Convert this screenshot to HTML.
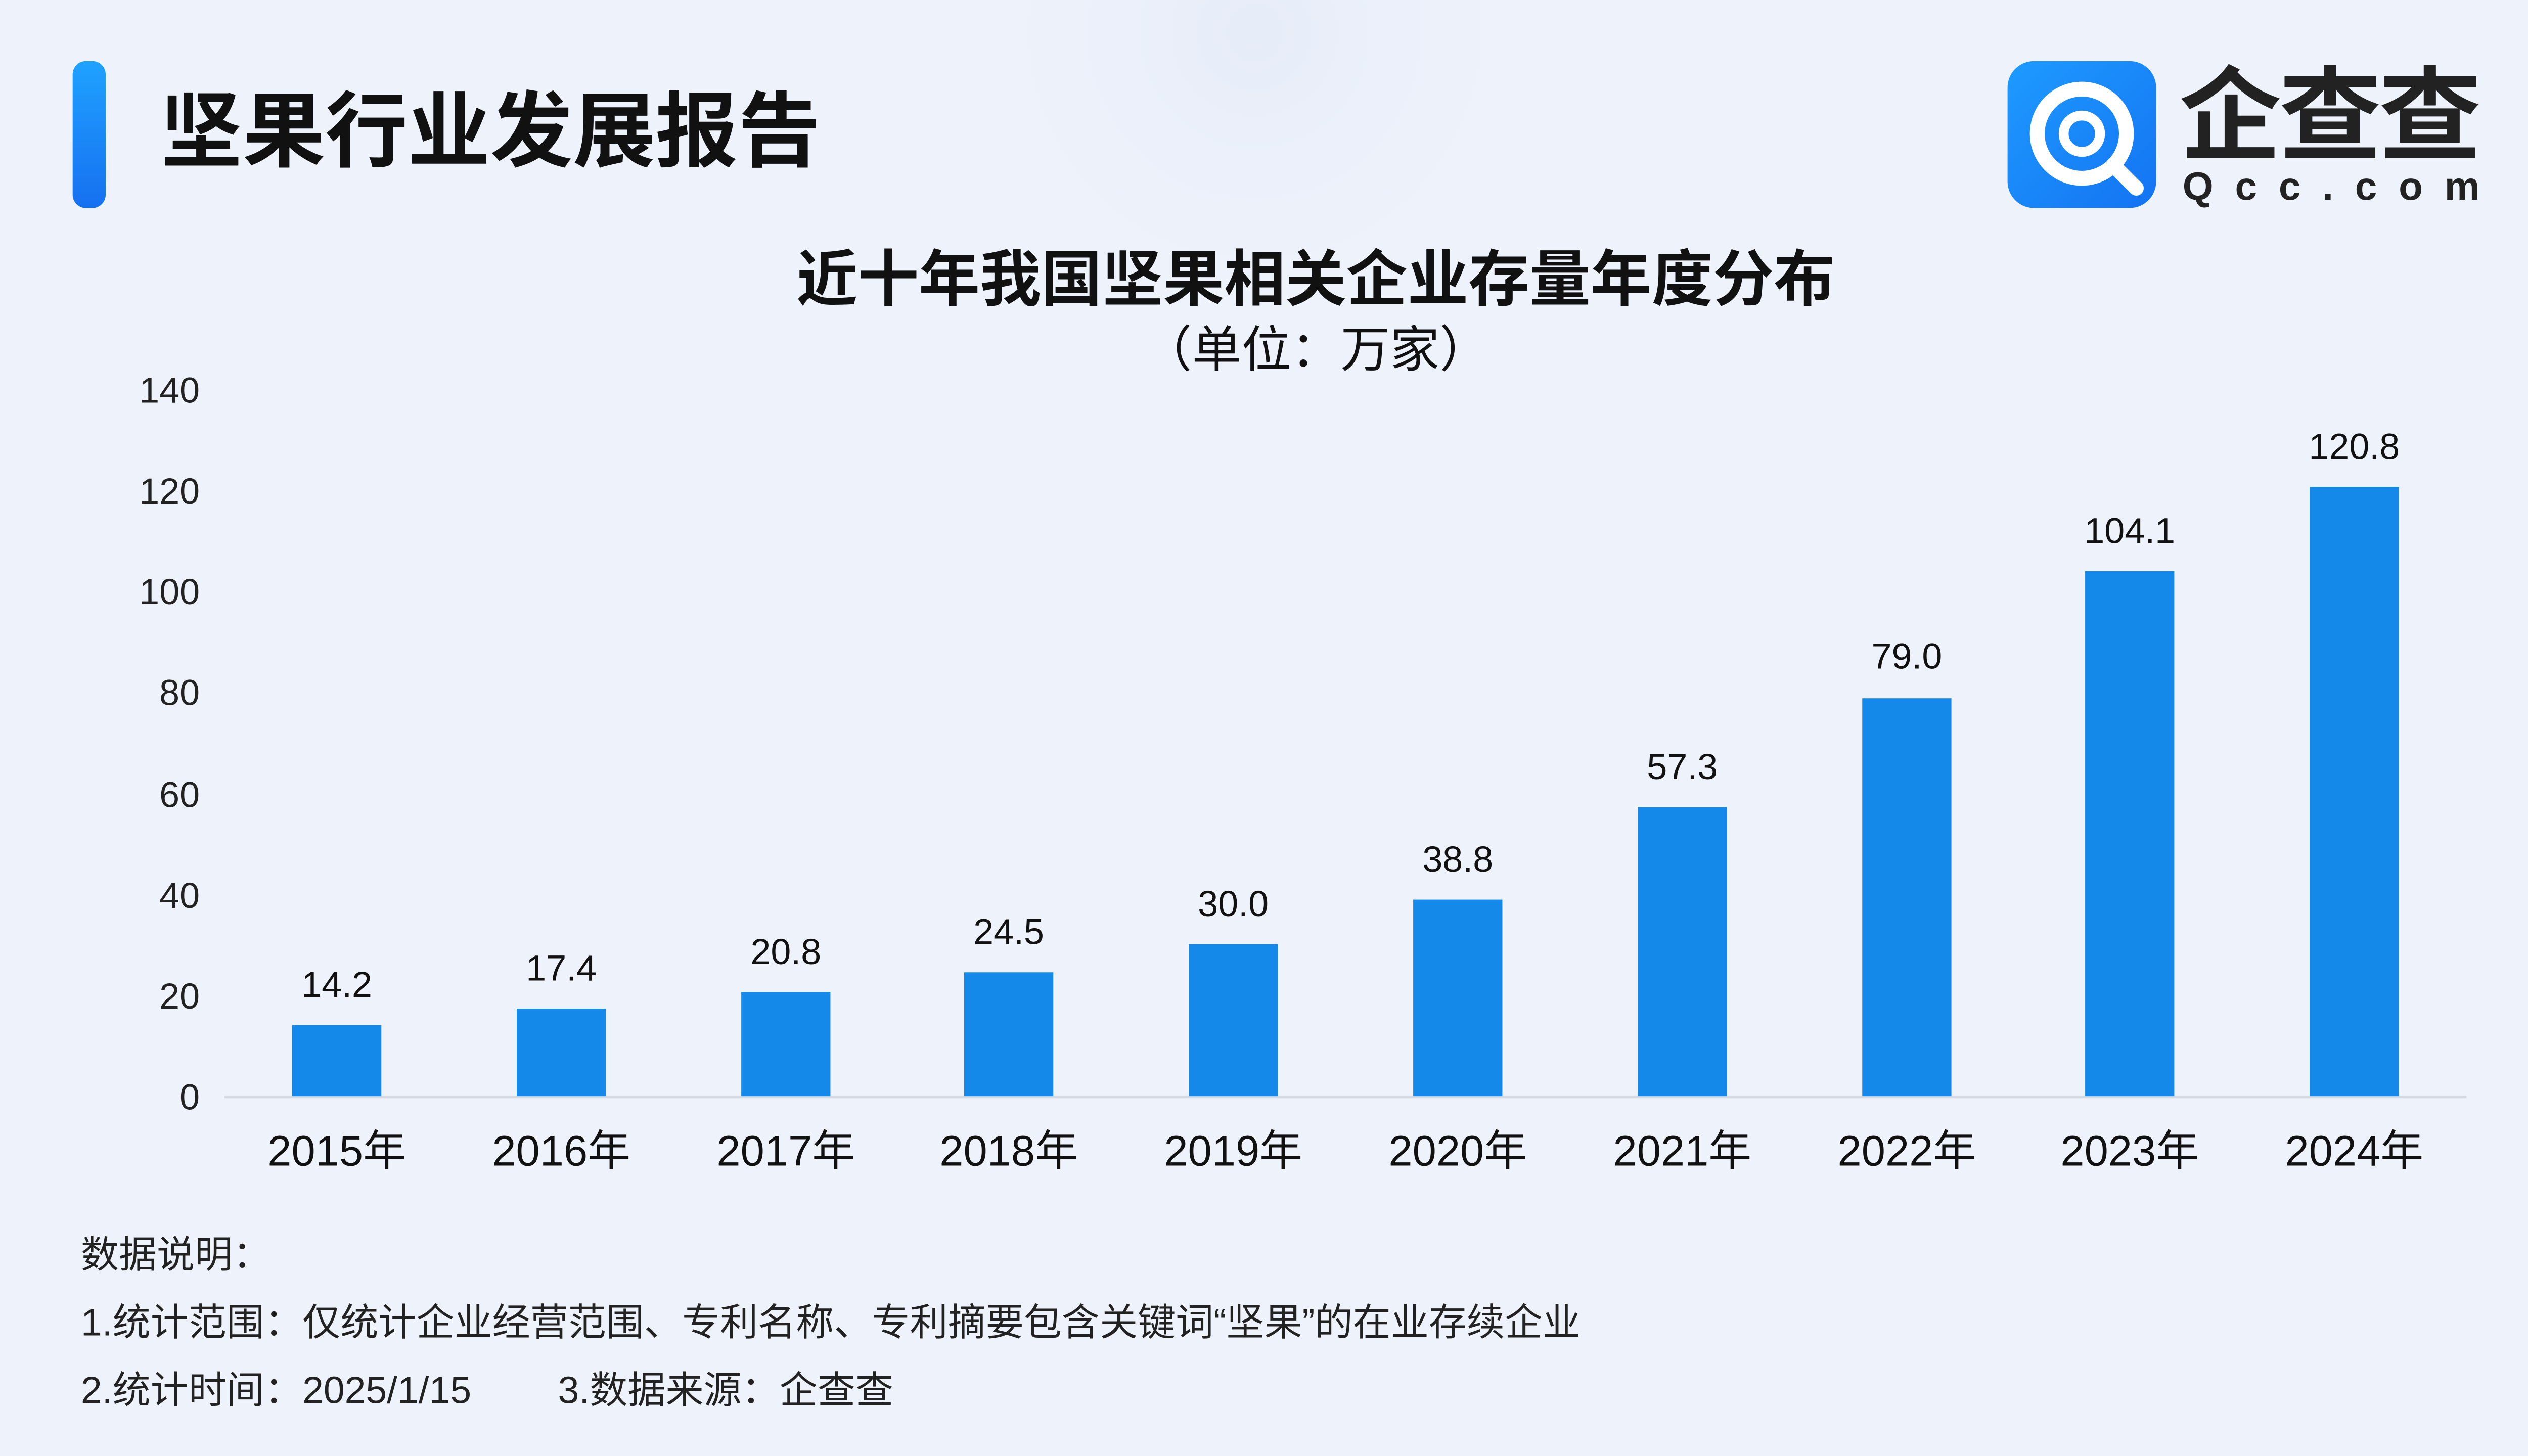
<!DOCTYPE html>
<html><head><meta charset="utf-8">
<style>
html,body{margin:0;padding:0;background:#EEF2FB;}
svg{display:block;}
text{font-family:"Liberation Sans","Noto Sans CJK SC",sans-serif;}
</style></head>
<body>
<svg width="5120" height="2880" viewBox="0 0 1568 882" xmlns="http://www.w3.org/2000/svg">
<defs>
<linearGradient id="acc" x1="0" y1="0" x2="0" y2="1">
<stop offset="0" stop-color="#1FA2FF"/><stop offset="1" stop-color="#1670F0"/>
</linearGradient>
<linearGradient id="logo" x1="0" y1="0" x2="1" y2="1">
<stop offset="0" stop-color="#1E9BFF"/><stop offset="1" stop-color="#1473F2"/>
</linearGradient>
<radialGradient id="glow" cx="0.5" cy="0.5" r="0.5">
<stop offset="0" stop-color="#E6ECF8"/><stop offset="1" stop-color="#EEF2FB" stop-opacity="0"/>
</radialGradient>
</defs>
<rect width="1568" height="882" fill="#EEF2FB"/>
<circle cx="760" cy="20" r="200" fill="url(#glow)"/>
<rect x="44" y="37" width="20" height="89" rx="8" fill="url(#acc)"/>
<text x="97" y="97" font-size="50" font-weight="bold" fill="#111">坚果行业发展报告</text>
<rect x="1216" y="37" width="90" height="89" rx="16" fill="url(#logo)"/>
<circle cx="1261" cy="81" r="27" fill="none" stroke="#fff" stroke-width="9"/>
<circle cx="1261" cy="81" r="11" fill="none" stroke="#fff" stroke-width="6"/>
<line x1="1280" y1="100" x2="1294" y2="114" stroke="#fff" stroke-width="9" stroke-linecap="round"/>
<text x="1320" y="92" font-size="62" font-weight="bold" fill="#222" textLength="183">企查查</text>
<text x="1322" y="121" font-size="24" font-weight="bold" fill="#222" textLength="180">Qcc.com</text>
<text x="797" y="182" font-size="37" font-weight="bold" fill="#111" text-anchor="middle">近十年我国坚果相关企业存量年度分布</text>
<text x="797" y="222" font-size="30" fill="#111" text-anchor="middle">（单位：万家）</text>
<g font-size="22" fill="#222" text-anchor="end">
<text x="121" y="244">140</text><text x="121" y="305">120</text><text x="121" y="366">100</text>
<text x="121" y="427">80</text><text x="121" y="489">60</text><text x="121" y="550">40</text>
<text x="121" y="611">20</text><text x="121" y="672">0</text>
</g>
<line x1="136" y1="664.5" x2="1494" y2="664.5" stroke="#D5DAE3" stroke-width="1.5"/>
<g fill="#1589EA">
<rect x="177" y="621" width="54" height="43"/>
<rect x="313" y="611" width="54" height="53"/>
<rect x="449" y="601" width="54" height="63"/>
<rect x="584" y="589" width="54" height="75"/>
<rect x="720" y="572" width="54" height="92"/>
<rect x="856" y="545" width="54" height="119"/>
<rect x="992" y="489" width="54" height="175"/>
<rect x="1128" y="423" width="54" height="241"/>
<rect x="1263" y="346" width="54" height="318"/>
<rect x="1399" y="295" width="54" height="369"/>
</g>
<g font-size="22" fill="#111" text-anchor="middle">
<text x="204" y="604">14.2</text><text x="340" y="594">17.4</text><text x="476" y="584">20.8</text>
<text x="611" y="572">24.5</text><text x="747" y="555">30.0</text><text x="883" y="528">38.8</text>
<text x="1019" y="472">57.3</text><text x="1155" y="405">79.0</text><text x="1290" y="329">104.1</text>
<text x="1426" y="278">120.8</text>
</g>
<g font-size="26" fill="#111" text-anchor="middle">
<text x="204" y="706">2015年</text><text x="340" y="706">2016年</text><text x="476" y="706">2017年</text>
<text x="611" y="706">2018年</text><text x="747" y="706">2019年</text><text x="883" y="706">2020年</text>
<text x="1019" y="706">2021年</text><text x="1155" y="706">2022年</text><text x="1290" y="706">2023年</text>
<text x="1426" y="706">2024年</text>
</g>
<g font-size="23" fill="#222">
<text x="49" y="768">数据说明：</text>
<text x="49" y="809">1.统计范围：仅统计企业经营范围、专利名称、专利摘要包含关键词“坚果”的在业存续企业</text>
<text x="49" y="850">2.统计时间：2025/1/15</text>
<text x="338" y="850">3.数据来源：企查查</text>
</g>
</svg>
</body></html>
